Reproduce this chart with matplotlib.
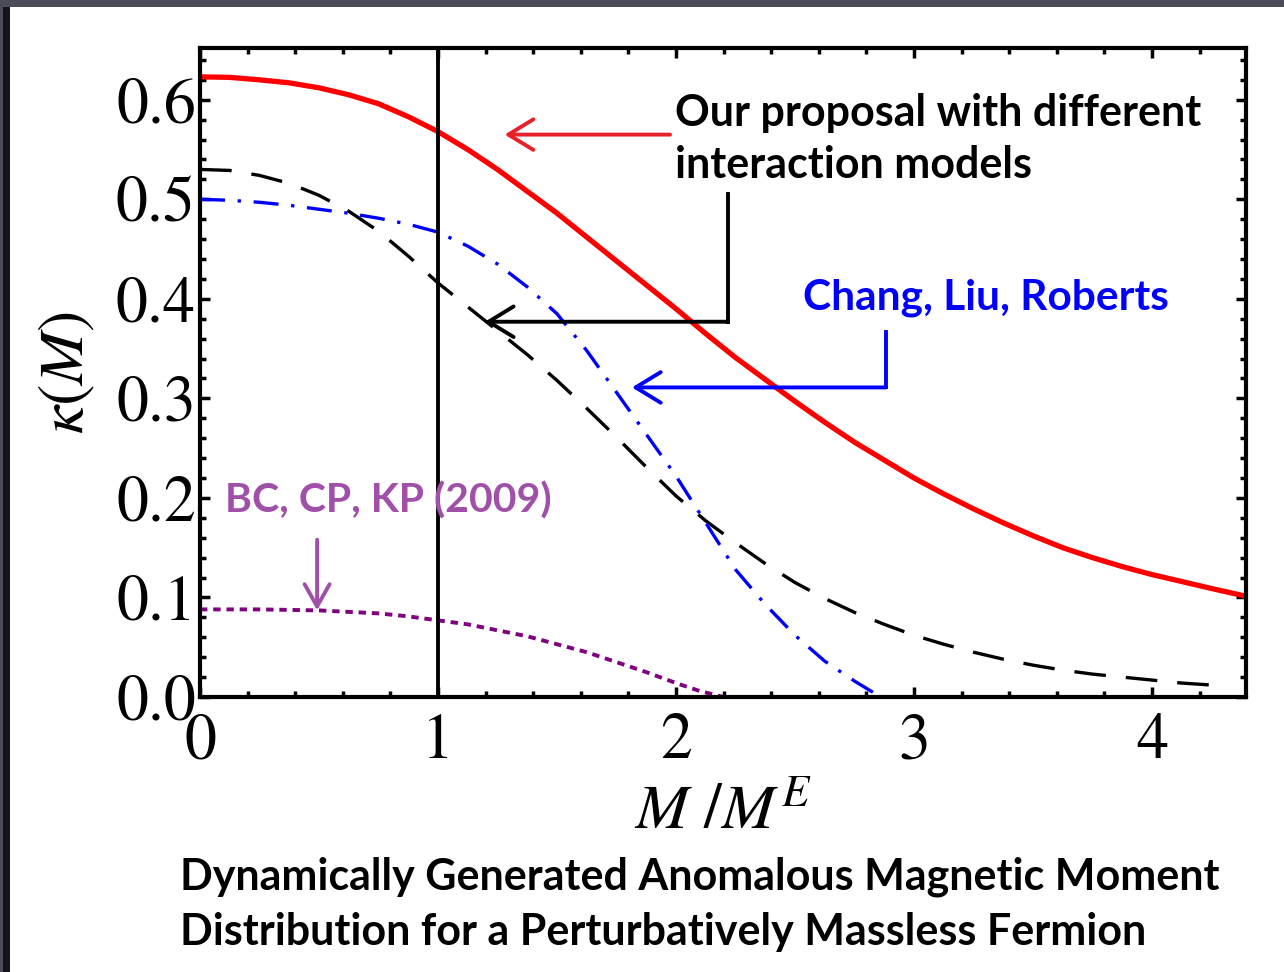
import matplotlib
matplotlib.use("Agg")
import matplotlib.pyplot as plt
from matplotlib.patches import Rectangle
from matplotlib.ticker import MultipleLocator

# Values
x_red = [0, 0.125, 0.25, 0.375, 0.5, 0.625, 0.75, 0.875, 1.0, 1.125, 1.25, 1.375, 1.5, 1.625,
         1.75, 1.875, 2.0, 2.125, 2.25, 2.375, 2.5, 2.625, 2.75, 2.875, 3.0, 3.125, 3.25,
         3.375, 3.5, 3.625, 3.75, 3.875, 4.0, 4.125, 4.25, 4.4]
y_red = [0.623, 0.6225, 0.620, 0.617, 0.612, 0.605, 0.596, 0.583, 0.568, 0.550, 0.530, 0.508,
         0.486, 0.462, 0.438, 0.414, 0.390, 0.365, 0.341, 0.319, 0.297, 0.276, 0.256, 0.238,
         0.220, 0.204, 0.189, 0.175, 0.162, 0.150, 0.140, 0.131, 0.123, 0.116, 0.109, 0.101]

x_black = [0, 0.125, 0.25, 0.375, 0.5, 0.625, 0.75, 0.875, 1.0, 1.125, 1.25, 1.375, 1.5, 1.625,
           1.75, 1.875, 2.0, 2.125, 2.25, 2.375, 2.5, 2.625, 2.75, 2.875, 3.0, 3.125, 3.25,
           3.375, 3.5, 3.625, 3.75, 3.875, 4.0, 4.125, 4.25]
y_black = [0.530, 0.529, 0.524, 0.516, 0.504, 0.488, 0.468, 0.443, 0.416, 0.392, 0.368, 0.344,
           0.318, 0.290, 0.261, 0.231, 0.202, 0.177, 0.155, 0.134, 0.115, 0.099, 0.085, 0.073,
           0.062, 0.053, 0.045, 0.038, 0.032, 0.027, 0.023, 0.020, 0.017, 0.014, 0.012]

x_blue = [0, 0.125, 0.25, 0.375, 0.5, 0.625, 0.75, 0.875, 1.0, 1.125, 1.25, 1.375, 1.5, 1.625,
          1.75, 1.875, 2.0, 2.125, 2.25, 2.375, 2.5, 2.625, 2.75, 2.86]
y_blue = [0.500, 0.499, 0.497, 0.494, 0.490, 0.486, 0.481, 0.475, 0.467, 0.453, 0.435, 0.412,
          0.385, 0.348, 0.306, 0.264, 0.222, 0.175, 0.128, 0.093, 0.062, 0.036, 0.016, 0.0]

x_purple = [0, 0.25, 0.5, 0.75, 0.875, 1.0, 1.125, 1.25, 1.375, 1.5, 1.625, 1.75, 1.875, 2.0, 2.1, 2.2]
y_purple = [0.088, 0.088, 0.087, 0.084, 0.081, 0.077, 0.073, 0.067, 0.061, 0.053, 0.045, 0.035,
            0.025, 0.014, 0.006, 0.0]

x_ticks = [0, 1, 2, 3, 4]
y_ticks = [0.0, 0.1, 0.2, 0.3, 0.4, 0.5, 0.6]

plt.rcParams['mathtext.fontset'] = 'stix'

fig = plt.figure(figsize=(12.84, 9.72), dpi=100)

# dark screenshot frame on top and left
fig.patches.append(Rectangle((0, 1 - 7 / 972), 1, 7 / 972, transform=fig.transFigure,
                             facecolor='#4a4d58', edgecolor='none', zorder=0))
fig.patches.append(Rectangle((0, 0), 3 / 1284, 1, transform=fig.transFigure,
                             facecolor='#4a4d58', edgecolor='none', zorder=0))
fig.patches.append(Rectangle((3 / 1284, 0), 7 / 1284, 1 - 7 / 972, transform=fig.transFigure,
                             facecolor='#141418', edgecolor='none', zorder=0))

ax = fig.add_axes([200 / 1284, 1 - 697 / 972, 1046 / 1284, 649 / 972])

ax.plot(x_red, y_red, color='#ff0000', lw=3.8, solid_joinstyle='round')
ax.plot(x_black, y_black, color='black', lw=2.4, dashes=(9.5, 6.0))
ax.plot(x_blue, y_blue, color='#0000ff', lw=2.4, dashes=(7.5, 3.8, 1, 3.8))
ax.plot(x_purple, y_purple, color='#800080', lw=2.8, dashes=(1.9, 1.5))
ax.axvline(1, color='black', lw=2.8)

ax.set_xlim(0, 4.395)
ax.set_ylim(0, 0.652)
ax.set_xticks(x_ticks)
ax.set_yticks(y_ticks)
ax.set_xticklabels([str(v) for v in x_ticks])
ax.set_yticklabels(['%.1f' % v for v in y_ticks])
ax.xaxis.set_minor_locator(MultipleLocator(0.2))
ax.yaxis.set_minor_locator(MultipleLocator(0.02))
for s in ax.spines.values():
    s.set_linewidth(3)
ax.tick_params(which='both', direction='in', top=True, right=True, width=2.5)
ax.tick_params(which='major', length=7)
ax.tick_params(which='minor', length=4.5)
ax.tick_params(axis='y', which='major', pad=3)
ax.tick_params(axis='x', which='major', pad=12)
for lab in ax.get_xticklabels() + ax.get_yticklabels():
    lab.set_fontfamily('STIXGeneral')
    lab.set_fontsize(46)

ax.set_xlabel(r'$M\ /M^E$', fontsize=46, labelpad=6)
ax.set_ylabel(r'$\kappa(M)$', fontsize=46, labelpad=14)

# annotations
bold = dict(family=['Lato', 'DejaVu Sans'], fontweight='bold')
ax.text(1.994, 0.607, 'Our proposal with different\ninteraction models', fontsize=31,
        color='black', va='top', ha='left', linespacing=1.38, **bold)
ax.text(2.534, 0.401, 'Chang, Liu, Roberts', fontsize=30.5, color='#0000ff',
        va='center', ha='left', **bold)
ax.text(0.105, 0.197, 'BC, CP, KP (2009)', fontsize=29.5, color='#a050a8',
        va='center', ha='left', **bold)

head = '->,head_length=1.8,head_width=1.1'
ax.annotate('', xy=(1.28, 0.565), xytext=(1.975, 0.565),
            arrowprops=dict(arrowstyle=head, color='#e8202a', lw=2.8, shrinkA=0, shrinkB=0))
ax.plot([2.218, 2.218], [0.505, 0.377], color='black', lw=2.8, solid_capstyle='projecting')
ax.annotate('', xy=(1.197, 0.377), xytext=(2.218, 0.377),
            arrowprops=dict(arrowstyle=head, color='black', lw=2.8, shrinkA=0, shrinkB=0))
ax.plot([2.882, 2.882], [0.367, 0.311], color='#0000ff', lw=2.8, solid_capstyle='projecting')
ax.annotate('', xy=(1.815, 0.311), xytext=(2.882, 0.311),
            arrowprops=dict(arrowstyle=head, color='#0000ff', lw=2.8, shrinkA=0, shrinkB=0))
ax.annotate('', xy=(0.492, 0.087), xytext=(0.492, 0.158),
            arrowprops=dict(arrowstyle='->,head_length=1.6,head_width=0.9', color='#a050a8',
                            lw=2.8, shrinkA=0, shrinkB=0))

fig.text(180 / 1284, 1 - 877 / 972,
         'Dynamically Generated Anomalous Magnetic Moment', fontsize=31,
         color='black', va='center', ha='left', **bold)
fig.text(180 / 1284, 1 - 932 / 972,
         'Distribution for a Perturbatively Massless Fermion', fontsize=31,
         color='black', va='center', ha='left', **bold)

fig.savefig('out.png', dpi=100, facecolor='white')
